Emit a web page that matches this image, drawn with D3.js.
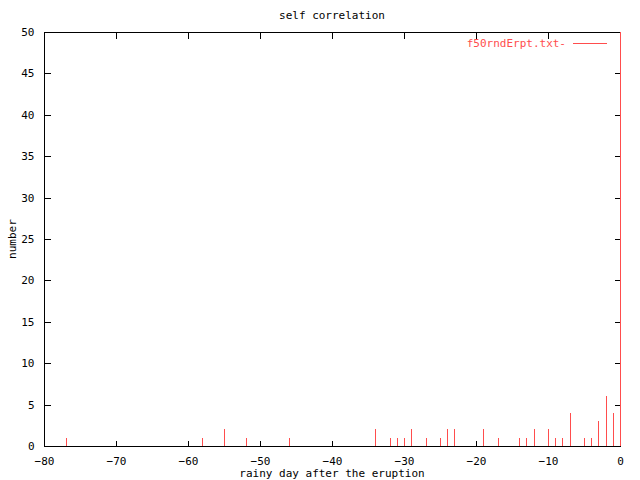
<!DOCTYPE html>
<html>
<head>
<meta charset="utf-8">
<script src="https://cdn.jsdelivr.net/npm/d3@7"></script>
<style>
  body { margin: 0; background: #fff; }
  text { font-family: "DejaVu Sans Mono", monospace; font-size: 11px; fill: #000; }
</style>
</head>
<body>
<svg id="chart"></svg>
<script>
// lag (days) and count for each impulse
const lags = [-77, -58, -55, -52, -46, -34, -32, -31, -30, -29, -27, -25, -24, -23, -19,
              -17, -14, -13, -12, -10, -9, -8, -7, -5, -4, -3, -2, -1, 0];
const counts = [1, 1, 2, 1, 1, 2, 1, 1, 1, 2, 1, 1, 2, 2, 2,
                1, 1, 1, 2, 2, 1, 1, 4, 1, 1, 3, 6, 4, 50];
const xTicks = [-80, -70, -60, -50, -40, -30, -20, -10, 0];
const yTicks = [0, 5, 10, 15, 20, 25, 30, 35, 40, 45, 50];
const seriesName = "f50rndErpt.txt-";

const data = lags.map((d, i) => ({ lag: d, n: counts[i] }));

const width = 640;
const height = 480;
const margin = { top: 32, right: 20, bottom: 34, left: 44 };
const red = "#ff4d4d";

const svg = d3.select("#chart")
  .attr("width", width)
  .attr("height", height);

const x = d3.scaleLinear()
  .domain([-80, 0])
  .range([margin.left, width - margin.right]);

const y = d3.scaleLinear()
  .domain([0, 50])
  .range([height - margin.bottom, margin.top]);

const tl = 6; // tick length, pointing inwards

// Frame
svg.append("rect")
  .attr("x", x(-80) + 0.5)
  .attr("y", y(50) + 0.5)
  .attr("width", x(0) - x(-80))
  .attr("height", y(0) - y(50))
  .attr("fill", "none")
  .attr("stroke", "#000")
  .attr("shape-rendering", "crispEdges");

// Axes (ticks drawn inward on all four sides)
svg.append("g")
  .attr("transform", `translate(0,${y(0) + 0.5})`)
  .call(d3.axisBottom(x).tickValues(xTicks).tickSize(-tl).tickPadding(tl + 5).tickFormat(d3.format("d")))
  .call(g => g.select(".domain").remove());

svg.append("g")
  .attr("transform", `translate(0,${y(50) + 0.5})`)
  .call(d3.axisTop(x).tickValues(xTicks).tickSize(-tl).tickFormat(""))
  .call(g => g.select(".domain").remove());

svg.append("g")
  .attr("transform", `translate(${x(-80) + 0.5},0)`)
  .call(d3.axisLeft(y).tickValues(yTicks).tickSize(-tl).tickPadding(tl + 4).tickFormat(d3.format("d")))
  .call(g => g.select(".domain").remove());

svg.append("g")
  .attr("transform", `translate(${x(0) + 0.5},0)`)
  .call(d3.axisRight(y).tickValues(yTicks).tickSize(-tl).tickFormat(""))
  .call(g => g.select(".domain").remove());

svg.selectAll(".tick line").attr("shape-rendering", "crispEdges");
svg.selectAll(".tick text").style("font-family", "DejaVu Sans Mono, monospace").style("font-size", "11px");

// Impulses (drawn on top of the frame)
svg.append("g").selectAll("line")
  .data(data)
  .enter()
  .append("line")
  .attr("x1", d => Math.round(x(d.lag)) + 0.5)
  .attr("x2", d => Math.round(x(d.lag)) + 0.5)
  .attr("y1", y(0))
  .attr("y2", d => y(d.n))
  .attr("stroke", red)
  .attr("stroke-width", 1)
  .attr("shape-rendering", "crispEdges");

// Legend
svg.append("text")
  .attr("x", 566)
  .attr("y", 47)
  .attr("text-anchor", "end")
  .style("fill", red)
  .text(seriesName);

svg.append("line")
  .attr("x1", 573)
  .attr("x2", 607)
  .attr("y1", 43.5)
  .attr("y2", 43.5)
  .attr("stroke", red)
  .attr("shape-rendering", "crispEdges");

// Title and axis labels
svg.append("text")
  .attr("x", 332)
  .attr("y", 19)
  .attr("text-anchor", "middle")
  .text("self correlation");

svg.append("text")
  .attr("x", 332)
  .attr("y", 477)
  .attr("text-anchor", "middle")
  .text("rainy day after the eruption");

svg.append("text")
  .attr("transform", "rotate(-90)")
  .attr("x", -239)
  .attr("y", 16)
  .attr("text-anchor", "middle")
  .text("number");
</script>
</body>
</html>
